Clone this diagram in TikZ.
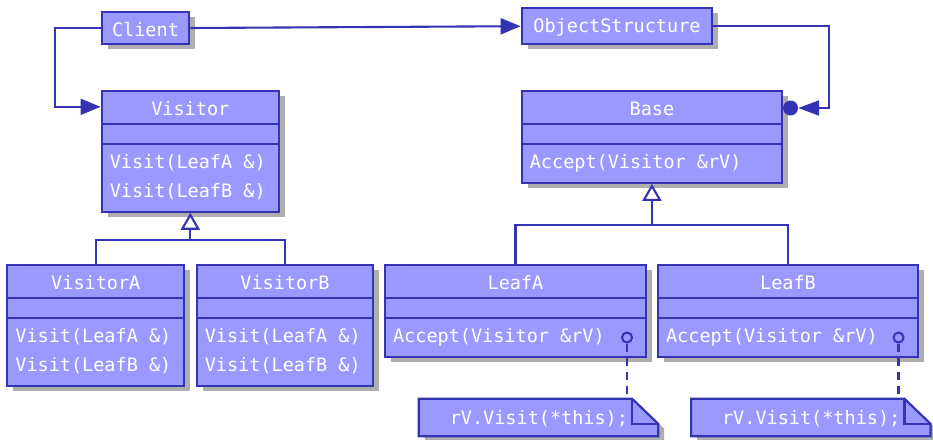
\documentclass[tikz,border=0pt]{standalone}
\usepackage{fontspec}
\setmonofont{DejaVu Sans Mono}
\usetikzlibrary{arrows.meta,shadows,calc}

\definecolor{umlfill}{HTML}{9999FF}
\definecolor{umlline}{HTML}{3333B3}
\definecolor{umlshadow}{HTML}{AEAEAE}

\tikzset{
  umlshade/.style={drop shadow={shadow xshift=6pt, shadow yshift=-5pt, fill=umlshadow, opacity=1}},
  umlbox/.style={rectangle, draw=umlline, fill=umlfill, line width=2.2pt, inner sep=0pt, umlshade},
  umlrule/.style={draw=umlline, line width=2.2pt},
  umltext/.style={text=white, inner sep=0pt, font=\ttfamily\fontsize{18.5}{20}\selectfont},
  conn/.style={draw=umlline, line width=2.1pt},
  assoc/.style={conn, -{Triangle[length=20pt, width=16pt]}},
  inherit/.style={conn, -{Triangle[open, fill=white, length=17pt, width=19pt]}},
  port/.style={circle, draw=umlline, fill=umlfill, line width=2pt, minimum size=10pt, inner sep=0pt},
  notelink/.style={conn, dash pattern=on 8pt off 6pt},
  notearea/.style={rectangle, inner sep=0pt, minimum width=239pt, minimum height=37pt},
  notepath/.style={draw=umlline, fill=umlfill, line width=2.2pt, umlshade},
}

% class box: name, cx, cy, width, height, title, operations
\newcommand\umlclass[7]{%
  \node[umlbox, minimum width=#4pt, minimum height=#5pt] (#1) at (#2,#3) {};
  \draw[umlrule] ([yshift=-34pt]#1.north west) -- ([yshift=-34pt]#1.north east);
  \draw[umlrule] ([yshift=-54pt]#1.north west) -- ([yshift=-54pt]#1.north east);
  \node[umltext] (#1-title) at ([yshift=-18.5pt]#1.north) {#6};
  \foreach \m [count=\i] in {#7} {
    \node[umltext, anchor=west] (#1-op\i) at ([xshift=9pt, yshift={-73pt-29pt*(\i-1)}]#1.north west) {\m};
  }%
}

% note with folded corner: name, cx, cy, text
\newcommand\umlnote[4]{%
  \node[notearea] (#1) at (#2,#3) {};
  \path[notepath] (#1.north west) -- ([xshift=-26pt]#1.north east)
     -- ([yshift=-25pt]#1.north east) -- (#1.south east) -- (#1.south west) -- cycle;
  \draw[umlrule] ([xshift=-26pt]#1.north east) -- ([xshift=-26pt, yshift=-25pt]#1.north east)
     -- ([yshift=-25pt]#1.north east);
  \node[umltext, anchor=east] (#1-text) at ([xshift=-30pt, yshift=-1pt]#1.east) {#4};
}

\begin{document}
\begin{tikzpicture}[x=1pt, y=-1pt]
\useasboundingbox[fill=white] (0,0) rectangle (933,439);

% simple boxes
\node[umlbox, minimum width=87.5pt, minimum height=32.5pt] (client) at (145.5,28) {};
\node[umltext] (client-title) at ([yshift=-1.5pt]client.center) {Client};
\node[umlbox, minimum width=190.5pt, minimum height=35.7pt] (objstruct) at (617,26.2) {};
\node[umltext] (objstruct-title) at ([yshift=-1.5pt]objstruct.center) {ObjectStructure};

% classes
\umlclass{visitor}{190.3}{151.3}{177.3}{120.7}{Visitor}{Visit(LeafA \&),Visit(LeafB \&)}
\umlclass{base}{651.9}{136.9}{260.3}{91.7}{Base}{Accept(Visitor \&rV)}
\umlclass{visitorA}{95.8}{325.4}{177}{120.7}{VisitorA}{Visit(LeafA \&),Visit(LeafB \&)}
\umlclass{visitorB}{285}{325.4}{176.6}{120.7}{VisitorB}{Visit(LeafA \&),Visit(LeafB \&)}
\umlclass{leafA}{515.5}{310.9}{261}{91.7}{LeafA}{Accept(Visitor \&rV)}
\umlclass{leafB}{788}{310.9}{260}{91.7}{LeafB}{Accept(Visitor \&rV)}

% notes
\umlnote{noteA}{538.5}{417.5}{rV.Visit(*this);}
\umlnote{noteB}{810.8}{417.5}{rV.Visit(*this);}

% ports and note links
\node[port] (portA) at (627,337.5) {};
\node[port] (portB) at (898.5,337.5) {};
\draw[notelink] (portA.south) -- (portA.south |- noteA.north);
\draw[notelink] (portB.south) -- (portB.south |- noteB.north);

% associations
\draw[assoc] (client.west) -- ++(-46,0) |- ([yshift=-17pt]visitor.north west);
\draw[assoc] (client.east) -- (objstruct.west);
\node[circle, fill=umlline, minimum size=15pt, inner sep=0pt] (dot) at (790.5,108) {};
\draw[conn, -{Triangle[length=21pt, width=15pt]}] (objstruct.east) -- ++(116,0) |- (dot.east);

% generalisations
\coordinate (busV) at ([yshift=-27pt]visitor.south);
\draw[conn] (visitorA.north) |- (busV) -| (visitorB.north);
\draw[inherit] (busV) -- (visitor.south);
\coordinate (busB) at ([yshift=-41.3pt]base.south);
\draw[conn] (leafA.north) |- (busB) -| (leafB.north);
\draw[inherit] (busB) -- (base.south);
\end{tikzpicture}
\end{document}
